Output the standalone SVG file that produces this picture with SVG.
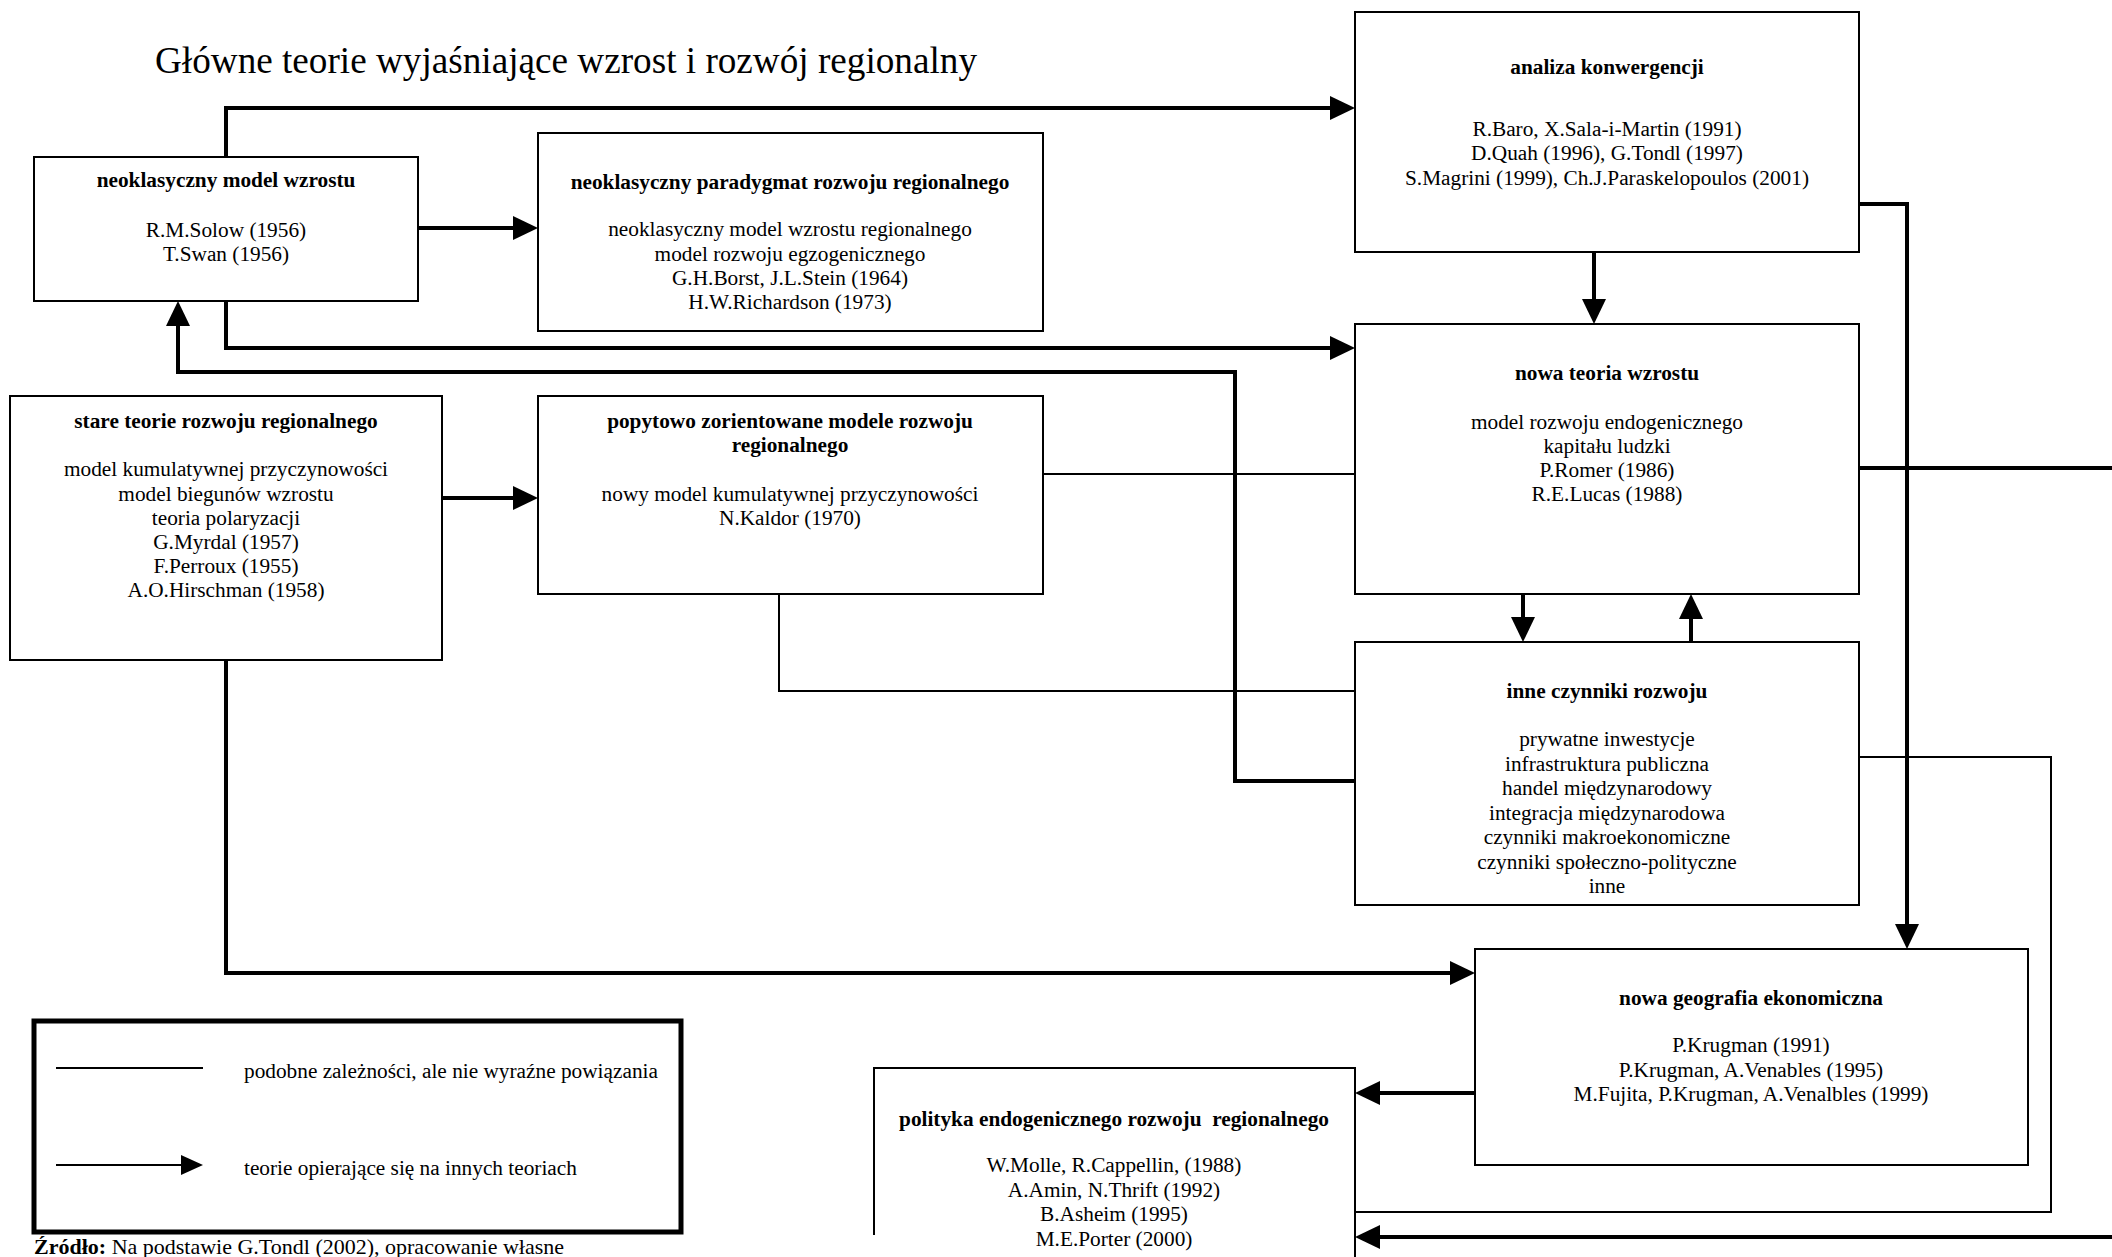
<svg xmlns="http://www.w3.org/2000/svg" width="2112" height="1257" viewBox="0 0 2112 1257">
<style>
text{font-family:"Liberation Serif","Times New Roman",serif;font-size:21.3px;fill:#000}
.t{text-anchor:middle}
.h{font-weight:bold}
.title{font-size:37.2px}
.foot{font-size:22px}
.box{fill:#fff;stroke:#000;stroke-width:2}
.thick{fill:none;stroke:#000;stroke-width:4}
.thin{fill:none;stroke:#000;stroke-width:2}
</style>
<defs>
<marker id="ah" markerUnits="userSpaceOnUse" markerWidth="26" markerHeight="26" refX="0" refY="12" orient="auto" overflow="visible">
<path d="M0,0 L25,12 L0,24 Z" fill="#000"/>
</marker>
<marker id="ahs" markerUnits="userSpaceOnUse" markerWidth="24" markerHeight="22" refX="0" refY="10" orient="auto" overflow="visible">
<path d="M0,0 L22,10 L0,20 Z" fill="#000"/>
</marker>
</defs>
<rect width="2112" height="1257" fill="#fff"/>
<text x="155" y="73" class="title">Główne teorie wyjaśniające wzrost i rozwój regionalny</text>

<g id="connectors">
<path class="thick" d="M226,157 V108 H1330" marker-end="url(#ah)"/>
<path class="thick" d="M418,228 H513" marker-end="url(#ah)"/>
<path class="thick" d="M226,301 V348 H1330" marker-end="url(#ah)"/>
<path class="thick" d="M1355,781 H1235 V372 H178 V326" marker-end="url(#ah)"/>
<path class="thick" d="M442,498 H513" marker-end="url(#ah)"/>
<path class="thick" d="M226,660 V973 H1450" marker-end="url(#ah)"/>
<path class="thick" d="M1594,252 V299" marker-end="url(#ah)"/>
<path class="thick" d="M1859,204 H1907 V924" marker-end="url(#ah)"/>
<path class="thick" d="M1523,594 V617" marker-end="url(#ah)"/>
<path class="thick" d="M1691,642 V619" marker-end="url(#ah)"/>
<path class="thick" d="M1475,1093 H1380" marker-end="url(#ah)"/>
<path class="thick" d="M1859,468 H2120"/>
<path class="thick" d="M2120,1237 H1380" marker-end="url(#ah)"/>
<path class="thin" d="M1043,474 H1355"/>
<path class="thin" d="M779,594 V691 H1355"/>
<path class="thin" d="M1859,757 H2051 V1212 H1355"/>
</g>

<g id="n-neoklasyczny-model">
<rect class="box" x="34" y="157" width="384" height="144"/>
<text class="t h" x="226" y="187">neoklasyczny model wzrostu</text>
<text class="t" x="226" y="237">R.M.Solow (1956)</text>
<text class="t" x="226" y="260.5">T.Swan (1956)</text>
</g>

<g id="n-neoklasyczny-paradygmat">
<rect class="box" x="538" y="133" width="505" height="198"/>
<text class="t h" x="790" y="189">neoklasyczny paradygmat rozwoju regionalnego</text>
<text class="t" x="790" y="236">neoklasyczny model wzrostu regionalnego</text>
<text class="t" x="790" y="261">model rozwoju egzogenicznego</text>
<text class="t" x="790" y="285">G.H.Borst, J.L.Stein (1964)</text>
<text class="t" x="790" y="309">H.W.Richardson (1973)</text>
</g>

<g id="n-analiza-konwergencji">
<rect class="box" x="1355" y="12" width="504" height="240"/>
<text class="t h" x="1607" y="74">analiza konwergencji</text>
<text class="t" x="1607" y="136">R.Baro, X.Sala-i-Martin (1991)</text>
<text class="t" x="1607" y="160">D.Quah (1996), G.Tondl (1997)</text>
<text class="t" x="1607" y="184.5">S.Magrini (1999), Ch.J.Paraskelopoulos (2001)</text>
</g>

<g id="n-nowa-teoria-wzrostu">
<rect class="box" x="1355" y="324" width="504" height="270"/>
<text class="t h" x="1607" y="379.5">nowa teoria wzrostu</text>
<text class="t" x="1607" y="429">model rozwoju endogenicznego</text>
<text class="t" x="1607" y="453">kapitału ludzki</text>
<text class="t" x="1607" y="477">P.Romer (1986)</text>
<text class="t" x="1607" y="501">R.E.Lucas (1988)</text>
</g>

<g id="n-stare-teorie">
<rect class="box" x="10" y="396" width="432" height="264"/>
<text class="t h" x="226" y="428">stare teorie rozwoju regionalnego</text>
<text class="t" x="226" y="476">model kumulatywnej przyczynowości</text>
<text class="t" x="226" y="500.5">model biegunów wzrostu</text>
<text class="t" x="226" y="525">teoria polaryzacji</text>
<text class="t" x="226" y="549">G.Myrdal (1957)</text>
<text class="t" x="226" y="573">F.Perroux (1955)</text>
<text class="t" x="226" y="597">A.O.Hirschman (1958)</text>
</g>

<g id="n-popytowo">
<rect class="box" x="538" y="396" width="505" height="198"/>
<text class="t h" x="790" y="428">popytowo zorientowane modele rozwoju</text>
<text class="t h" x="790" y="452">regionalnego</text>
<text class="t" x="790" y="500.5">nowy model kumulatywnej przyczynowości</text>
<text class="t" x="790" y="525">N.Kaldor (1970)</text>
</g>

<g id="n-inne-czynniki">
<rect class="box" x="1355" y="642" width="504" height="263"/>
<text class="t h" x="1607" y="698">inne czynniki rozwoju</text>
<text class="t" x="1607" y="746">prywatne inwestycje</text>
<text class="t" x="1607" y="770.5">infrastruktura publiczna</text>
<text class="t" x="1607" y="795">handel międzynarodowy</text>
<text class="t" x="1607" y="819.5">integracja międzynarodowa</text>
<text class="t" x="1607" y="844">czynniki makroekonomiczne</text>
<text class="t" x="1607" y="868.5">czynniki społeczno-polityczne</text>
<text class="t" x="1607" y="893">inne</text>
</g>

<g id="n-nowa-geografia">
<rect class="box" x="1475" y="949" width="553" height="216"/>
<text class="t h" x="1751" y="1005">nowa geografia ekonomiczna</text>
<text class="t" x="1751" y="1052">P.Krugman (1991)</text>
<text class="t" x="1751" y="1076.5">P.Krugman, A.Venables (1995)</text>
<text class="t" x="1751" y="1101">M.Fujita, P.Krugman, A.Venalbles (1999)</text>
</g>

<g id="n-polityka">
<rect x="874" y="1068" width="481" height="200" fill="#fff"/>
<path class="thin" d="M874,1235 V1068 H1355 V1260"/>
<text class="t h" x="1114" y="1126">polityka endogenicznego rozwoju &#160;regionalnego</text>
<text class="t" x="1114" y="1172">W.Molle, R.Cappellin, (1988)</text>
<text class="t" x="1114" y="1196.5">A.Amin, N.Thrift (1992)</text>
<text class="t" x="1114" y="1221">B.Asheim (1995)</text>
<text class="t" x="1114" y="1245.5">M.E.Porter (2000)</text>
</g>

<g id="legend">
<rect x="34" y="1021" width="647" height="211" fill="#fff" stroke="#000" stroke-width="5"/>
<path class="thin" d="M56,1068 H203"/>
<text x="244" y="1078">podobne zależności, ale nie wyraźne powiązania</text>
<path class="thin" d="M56,1165 H181" marker-end="url(#ahs)"/>
<text x="244" y="1174.5">teorie opierające się na innych teoriach</text>
</g>

<text class="foot" x="34" y="1254"><tspan font-weight="bold">Źródło:</tspan> Na podstawie G.Tondl (2002), opracowanie własne</text>
</svg>
